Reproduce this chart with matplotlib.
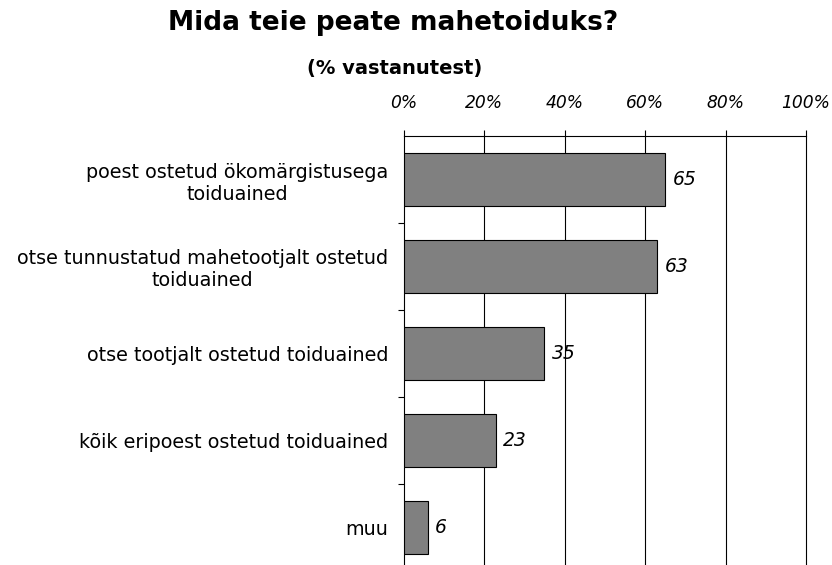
import matplotlib
matplotlib.use("Agg")
import matplotlib.pyplot as plt
from matplotlib.ticker import FixedLocator

plt.rcParams['font.family'] = ['DejaVu Sans']

categories = [
    "poest ostetud ökomärgistusega\ntoiduained",
    "otse tunnustatud mahetootjalt ostetud\ntoiduained",
    "otse tootjalt ostetud toiduained",
    "kõik eripoest ostetud toiduained",
    "muu",
]
values = [65, 63, 35, 23, 6]
xticks = [0, 20, 40, 60, 80, 100]
xticklabels = ["0%", "20%", "40%", "60%", "80%", "100%"]
title = "Mida teie peate mahetoiduks?"
subtitle = "(% vastanutest)"

W, H = 832, 565
fig = plt.figure(figsize=(W / 100, H / 100), dpi=100)
left, right, top, bottom = 403.5, 806, 136, 571
ax = fig.add_axes([left / W, 1 - bottom / H, (right - left) / W, (bottom - top) / H])

y = list(range(len(categories)))
ax.barh(y, values, height=0.62, color="#808080", edgecolor="black", linewidth=0.8, zorder=3)
ax.set_ylim(len(categories) - 0.5, -0.5)
ax.set_xlim(0, 100)

for yi, v in zip(y, values):
    ax.text(v + 1.8, yi, f"{v}", va="center", ha="left", fontsize=13.5, style="italic", zorder=4)

# x axis on top
ax.xaxis.tick_top()
ax.set_xticks(xticks)
ax.set_xticklabels(xticklabels, fontsize=12.3, style="italic")
ax.tick_params(axis="x", direction="out", length=4.5, width=0.8, pad=13, colors="black")
for xv in xticks[1:-1]:
    ax.axvline(xv, color="black", linewidth=0.8, zorder=1)

# y axis labels and boundary ticks
ax.set_yticks(y)
ax.set_yticklabels(categories, fontsize=13.8, multialignment="center", linespacing=1.2)
ax.tick_params(axis="y", which="major", length=0, pad=11)
ax.yaxis.set_minor_locator(FixedLocator([i + 0.5 for i in y[:-1]]))
ax.tick_params(axis="y", which="minor", direction="out", length=4, width=0.8)

for s in ["top", "left", "right"]:
    ax.spines[s].set_linewidth(0.8)
    ax.spines[s].set_color("black")
ax.spines["bottom"].set_visible(False)

fig.text(393.5 / W, 1 - 23 / H, title, ha="center", va="center", fontsize=19, fontweight="bold")
fig.text(395 / W, 1 - 68 / H, subtitle, ha="center", va="center", fontsize=14, fontweight="bold")

fig.savefig("out.png", dpi=100, facecolor="white")
